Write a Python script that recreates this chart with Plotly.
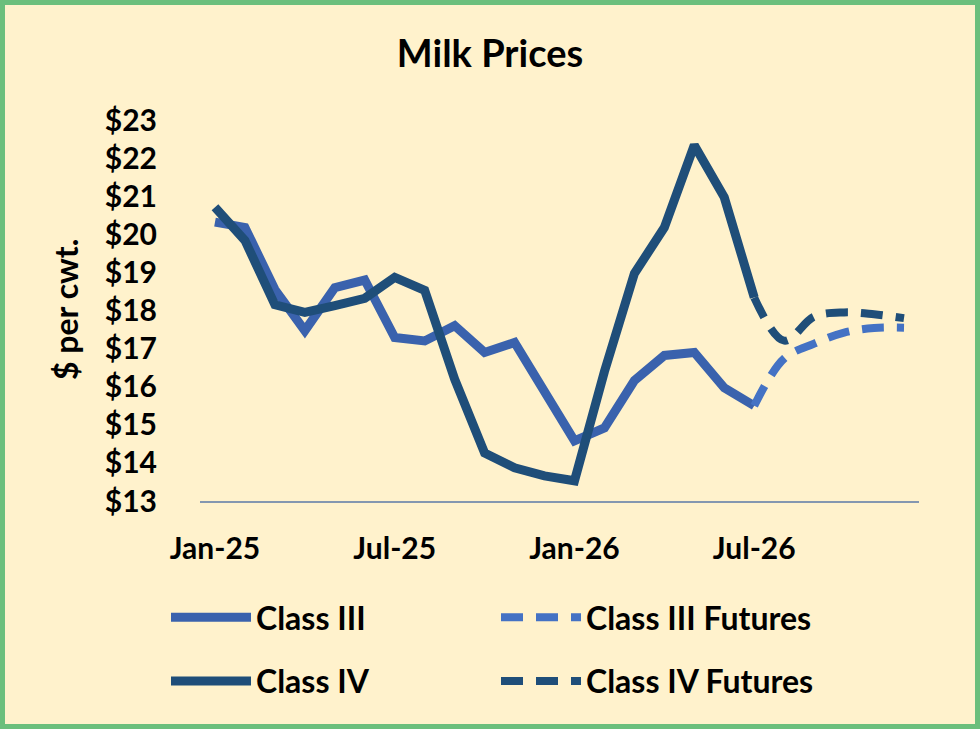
import plotly.graph_objects as go

months = ['Jan-25', 'Feb-25', 'Mar-25', 'Apr-25', 'May-25', 'Jun-25', 'Jul-25', 'Aug-25',
          'Sep-25', 'Oct-25', 'Nov-25', 'Dec-25', 'Jan-26', 'Feb-26', 'Mar-26', 'Apr-26',
          'May-26', 'Jun-26', 'Jul-26', 'Aug-26', 'Sep-26', 'Oct-26', 'Nov-26', 'Dec-26']

class3 = [20.32, 20.18, 18.55, 17.47, 18.60, 18.80, 17.29, 17.20, 17.60, 16.90, 17.16, 15.87,
          14.58, 14.92, 16.16, 16.82, 16.90, 15.97, 15.50]
class4 = [20.71, 19.84, 18.15, 17.95, 18.13, 18.32, 18.87, 18.53, 16.20, 14.26, 13.87, 13.66,
          13.53, 16.40, 18.97, 20.18, 22.34, 20.97, 18.34]

fut_months = months[18:]
class3_fut = [15.50, 16.74, 17.13, 17.42, 17.54, 17.55]
class4_fut = [18.34, 17.21, 17.84, 17.95, 17.90, 17.80]

x_ticks = ['Jan-25', 'Jul-25', 'Jan-26', 'Jul-26']
y_ticks = list(range(13, 24))

W, H = 980, 729
L, R, T, B = 200, 61, 120, 228
FONT = 'Lato'
C3 = '#3A62AD'
C3F = '#4472C4'
C4 = '#1F4E79'

fig = go.Figure()
fig.add_trace(go.Scatter(x=months[:len(class3)], y=class3, name='Class III', mode='lines',
                         line=dict(color=C3, width=9), legend='legend', legendgroup='a'))
fig.add_trace(go.Scatter(x=months[:len(class4)], y=class4, name='Class IV', mode='lines',
                         line=dict(color=C4, width=9), legend='legend', legendgroup='b'))
fig.add_trace(go.Scatter(x=fut_months, y=class3_fut, name='Class III Futures', mode='lines',
                         line=dict(color=C3F, width=8, dash='22px,13px', shape='spline'),
                         legend='legend2', legendgroup='c'))
fig.add_trace(go.Scatter(x=fut_months, y=class4_fut, name='Class IV Futures', mode='lines',
                         line=dict(color=C4, width=8, dash='22px,13px', shape='spline'),
                         legend='legend2', legendgroup='d'))

# green frame round the whole picture
pw, ph = W - L - R, H - T - B
fig.add_shape(type='rect', xref='paper', yref='paper',
              x0=(-L + 2.5) / pw, x1=1 + (R - 2.5) / pw,
              y0=(-B + 2.5) / ph, y1=1 + (T - 2.5) / ph,
              line=dict(color='#6BBF7C', width=5), layer='below')

# y axis title as an annotation (standoff misbehaves with ticklabelstandoff)
fig.add_annotation(text='<b>$ per cwt.</b>', textangle=-90, showarrow=False,
                   xref='paper', yref='paper', x=(65 - L) / pw, y=(H - B - 310) / ph,
                   xanchor='center', yanchor='middle',
                   font=dict(family=FONT, size=32, color='black'))

leg_font = dict(family=FONT, size=32, color='black', weight='bold')
tick_font = dict(family=FONT, size=30, color='black', weight='bold')
fig.update_layout(
    width=W, height=H,
    margin=dict(l=L, r=R, t=T, b=B, autoexpand=False),
    paper_bgcolor='#FFF2CC', plot_bgcolor='#FFF2CC',
    title=dict(text='<b>Milk Prices</b>', x=0.5, xref='container', xanchor='center',
               y=1 - 54 / H, yref='container', yanchor='middle',
               font=dict(family=FONT, size=38, color='black')),
    xaxis=dict(type='category', categoryorder='array', categoryarray=months,
               range=[-0.5, 23.5], tickvals=x_ticks, ticktext=x_ticks,
               showgrid=False, zeroline=False, showline=True, linecolor='#8497B0',
               linewidth=1.5, ticks='', ticklabelstandoff=20, tickfont=tick_font),
    yaxis=dict(range=[13, 23], tickvals=y_ticks, ticktext=['$%d' % v for v in y_ticks],
               showgrid=False, zeroline=False, showline=False, ticks='',
               ticklabelstandoff=42, tickfont=tick_font),
    legend=dict(xref='container', yref='container', x=166 / W, y=1 - 590 / H,
                xanchor='left', yanchor='top', bgcolor='rgba(0,0,0,0)',
                font=leg_font, itemwidth=80, traceorder='grouped', tracegroupgap=19),
    legend2=dict(xref='container', yref='container', x=496 / W, y=1 - 590 / H,
                 xanchor='left', yanchor='top', bgcolor='rgba(0,0,0,0)',
                 font=leg_font, itemwidth=80, traceorder='grouped', tracegroupgap=19),
)

fig.write_html('out.html', config={'displayModeBar': False},
               post_script="document.body.style.margin='0';")
